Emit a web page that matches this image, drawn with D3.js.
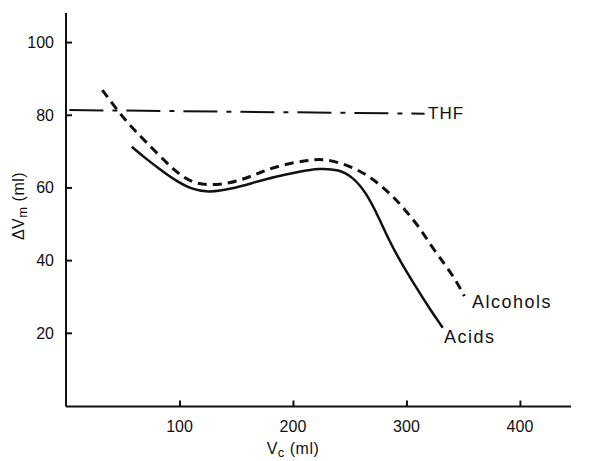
<!DOCTYPE html>
<html>
<head>
<meta charset="utf-8">
<script src="https://cdn.jsdelivr.net/npm/d3@7"></script>
<style>
  body { margin: 0; background: #fff; }
  text { font-family: "Liberation Sans", sans-serif; fill: #111; }
</style>
</head>
<body>
<svg id="chart" width="595" height="461"></svg>
<script>
const width = 595, height = 461

// data
const xTicks = [100, 200, 300, 400]
const yTicks = [20, 40, 60, 80, 100]

const acidsX = [58, 70, 82, 95, 111, 126, 147, 165, 185, 205, 223, 241, 252, 264, 276, 285, 296, 309, 320, 332]
const acidsY = [71.2, 68, 65.2, 62.2, 59.4, 58.6, 59.7, 61.3, 63, 64.3, 65.3, 64.9, 63, 58.9, 51.5, 45.2, 38.9, 32.3, 26.8, 21.4]

const alcoholsX = [32, 42, 54, 69, 94, 111, 133, 155, 172, 191, 212, 228, 252, 270, 287, 300, 312, 323, 335, 344, 351]
const alcoholsY = [86.8, 82.6, 77.8, 73, 65, 61, 60.5, 62, 64.3, 66.3, 67.4, 68, 65.8, 62.5, 58, 53.4, 48.8, 43.3, 38.4, 34.2, 30.1]

const thfX = [3, 316]
const thfY = [81.3, 80.3]

const svg = d3.select('#chart')

// scales
const x = d3.scaleLinear().domain([0, 445]).range([66, 571])
const y = d3.scaleLinear().domain([0, 108]).range([405.5, 13])

// axes (ticks point inwards)
const xAxis = d3.axisTop(x).tickValues(xTicks).tickSize(6).tickFormat('')
const yAxis = d3.axisRight(y).tickValues(yTicks).tickSize(6).tickFormat('')

const gx = svg.append('g')
  .attr('transform', `translate(0, ${y(0) + 1})`)
  .call(xAxis)
gx.select('.domain').attr('d', `M${x(0)},0H${x(445)}`)

const gy = svg.append('g')
  .attr('transform', `translate(${x(0)}, 0)`)
  .call(yAxis)
gy.select('.domain').attr('d', `M0,${y(108)}V${y(0) + 1}`)

svg.selectAll('.domain').attr('stroke', '#111').attr('stroke-width', 2)
svg.selectAll('.tick line').attr('stroke', '#111').attr('stroke-width', 2)

// tick labels
svg.append('g').selectAll('text')
  .data(xTicks)
  .join('text')
  .attr('x', d => x(d))
  .attr('y', 432)
  .attr('text-anchor', 'middle')
  .attr('font-size', '16px')
  .text(d => d)

svg.append('g').selectAll('text')
  .data(yTicks)
  .join('text')
  .attr('x', 54)
  .attr('y', d => y(d) + 6)
  .attr('text-anchor', 'end')
  .attr('font-size', '16px')
  .text(d => d)

// axis titles
const xt = svg.append('text')
  .attr('x', x(200))
  .attr('y', 454)
  .attr('text-anchor', 'middle')
  .attr('font-size', '16px')
  .attr('letter-spacing', '0.5px')
xt.append('tspan').text('V')
xt.append('tspan').text('c').attr('font-size', '13px').attr('dy', 3)
xt.append('tspan').text(' (ml)').attr('dy', -3)

const yt = svg.append('text')
  .attr('transform', 'translate(24, 206) rotate(-90)')
  .attr('text-anchor', 'middle')
  .attr('font-size', '16px')
  .attr('letter-spacing', '0.5px')
yt.append('tspan').text('ΔV')
yt.append('tspan').text('m').attr('font-size', '13px').attr('dy', 3)
yt.append('tspan').text(' (ml)').attr('dy', -3)

// curves
const line = d3.line()
  .x(d => x(d[0]))
  .y(d => y(d[1]))
  .curve(d3.curveLinear)

svg.append('path')
  .datum(d3.zip(thfX, thfY))
  .attr('d', line)
  .attr('fill', 'none')
  .attr('stroke', '#111')
  .attr('stroke-width', 2)
  .attr('stroke-dasharray', '34,9,5,9')

line.curve(d3.curveBasis)

svg.append('path')
  .datum(d3.zip(alcoholsX, alcoholsY))
  .attr('d', line)
  .attr('fill', 'none')
  .attr('stroke', '#111')
  .attr('stroke-width', 3)
  .attr('stroke-dasharray', '9,6')

svg.append('path')
  .datum(d3.zip(acidsX, acidsY))
  .attr('d', line)
  .attr('fill', 'none')
  .attr('stroke', '#111')
  .attr('stroke-width', 2.5)

// series labels
svg.append('text')
  .attr('x', 428).attr('y', 119)
  .attr('font-size', '17px')
  .attr('letter-spacing', '1px')
  .text('THF')

svg.append('text')
  .attr('x', 472).attr('y', 308)
  .attr('font-size', '18px')
  .attr('letter-spacing', '1.5px')
  .text('Alcohols')

svg.append('text')
  .attr('x', 444).attr('y', 343)
  .attr('font-size', '18px')
  .attr('letter-spacing', '1.5px')
  .text('Acids')
</script>
</body>
</html>
